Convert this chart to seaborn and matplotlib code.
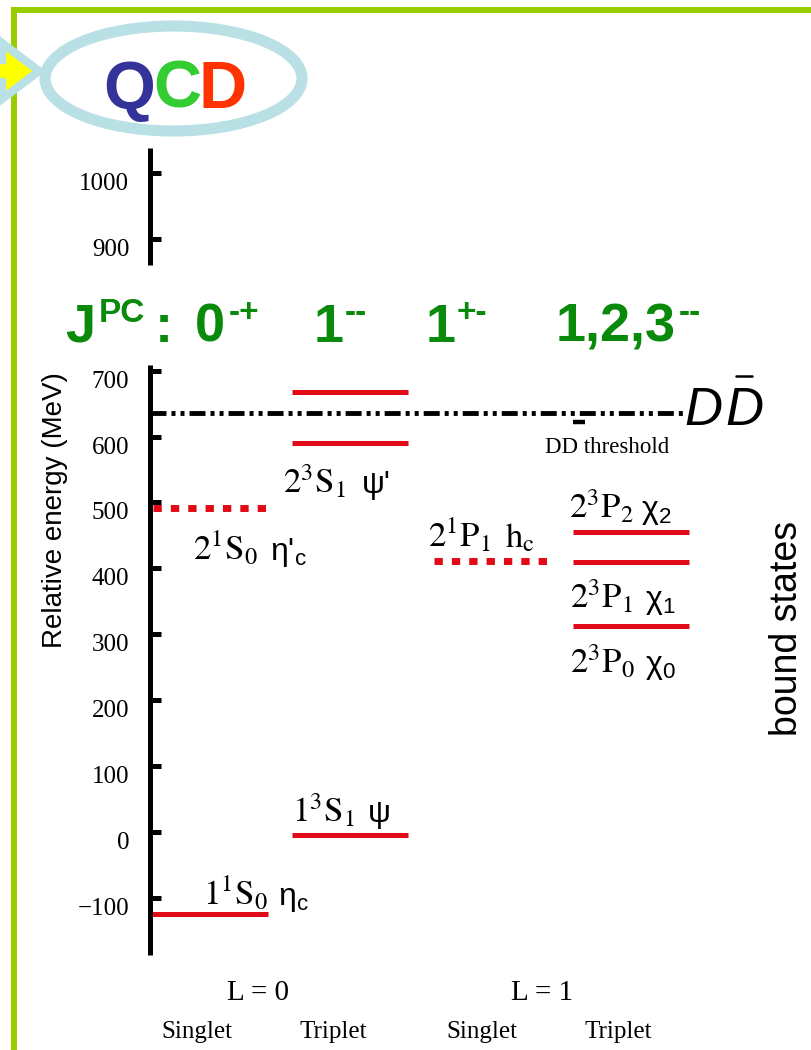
import numpy as np
import pandas as pd
import matplotlib
matplotlib.use("Agg")
import matplotlib.pyplot as plt
import seaborn as sns
from matplotlib.patches import Ellipse, Polygon
from matplotlib.lines import Line2D

# ---------------- data ----------------
column_names = ["Singlet", "Triplet", "Singlet", "Triplet"]
L_labels = ["L = 0", "L = 1"]

solid_states = ["eta_c", "J/psi", "psi'", "psi(3770)", "chi_c2", "chi_c1", "chi_c0"]
solid_column = [0, 1, 1, 1, 3, 3, 3]
solid_energy = [-125, -5, 590, 668, 455, 410, 312]   # MeV relative

dotted_states = ["eta_c'", "h_c"]
dotted_column = [0, 2]
dotted_energy = [491, 411]

dd_threshold = 636
threshold_mark = 622

ytick_values = [-100, 0, 100, 200, 300, 400, 500, 600, 700, 900, 1000]
ytick_labels = ["\u2212100", "0", "100", "200", "300", "400", "500", "600", "700", "900", "1000"]

term_labels = [r"$\mathrm{2^3S_1}$", r"$\mathrm{2^1S_0}$", r"$\mathrm{2^1P_1}$", r"$\mathrm{2^3P_2}$",
               r"$\mathrm{2^3P_1}$", r"$\mathrm{2^3P_0}$", r"$\mathrm{1^3S_1}$", r"$\mathrm{1^1S_0}$"]
particle_labels = ["\u03c8'", "\u03b7'$_\\mathregular{c}$", r"$\mathrm{h_c}$",
                   "\u03c7$_\\mathregular{2}$", "\u03c7$_\\mathregular{1}$", "\u03c7$_\\mathregular{0}$",
                   "\u03c8", "\u03b7$_\\mathregular{c}$"]
jpc_main = ["0", "1", "1", "1,2,3"]
jpc_sup = ["-+", "--", "+-", "--"]

# ---------------- layout (pixels) ----------------
W, H = 811, 1050
term_pos = [(283, 493), (193, 560), (428, 547), (569, 518), (570, 608), (570, 673), (292, 822), (203, 905)]
particle_x = [362, 270, 505, 641, 645, 645, 368, 278]
jpc_main_centres = [210, 329, 441, 616]
jpc_sup_left = [229, 345, 457, 679]

RED = "#e20a17"
GREEN = "#0a8a0a"
LIGHTBLUE = "#b9e0e4"
FRAME = "#99cc00"

sns.set_theme(style="white")
plt.rcParams["lines.scale_dashes"] = False
plt.rcParams["font.family"] = ["Liberation Sans", "DejaVu Sans"]

fig = plt.figure(figsize=(8.11, 10.5), dpi=100)
fig.patch.set_facecolor("white")


def T(px, py, s, **kw):
    return fig.text(px / W, 1 - py / H, s, **kw)


# main axes: column centres at 210 + 140.3*i px, 0 MeV at y=832 px, 65.9 px / 100 MeV
col_px0, col_dx = 210.0, 140.3
y0_px, px_per_mev = 832.0, 0.659
ax = fig.add_axes([150 / W, 0, 1 - 150 / W, 1])
ax.patch.set_alpha(0)

hw = 58 / col_dx
rows = []
for s, c, e in zip(solid_states, solid_column, solid_energy):
    rows.append(dict(state=s, x=c - hw, E=e))
    rows.append(dict(state=s, x=c + hw, E=e))
df = pd.DataFrame(rows)
sns.lineplot(data=df, x="x", y="E", units="state", estimator=None, sort=False,
             color=RED, lw=3.6, ax=ax, legend=False, solid_capstyle="butt")

dc = np.array(dotted_column, dtype=float)
ax.hlines(dotted_energy, dc - hw + 0.01, dc + hw, colors=RED, lw=5,
          linestyles=[(0, (6, 6.5))])

xmin = (150 - col_px0) / col_dx
xmax = (W - col_px0) / col_dx
x_dd_end = 3 + hw - 0.04
ax.plot([xmin, x_dd_end], [dd_threshold, dd_threshold], color="black", lw=3.5,
        dashes=[11.5, 3.6, 2.9, 3.6, 2.9, 3.6], solid_capstyle="butt", dash_capstyle="butt")
ax.plot([2.59, 2.67], [threshold_mark, threshold_mark], color="black", lw=3.2, solid_capstyle="butt")

ax.set_xlim(xmin, xmax)
ax.set_ylim(-(H - y0_px) / px_per_mev, y0_px / px_per_mev)
ax.set_xlabel("")
ax.set_ylabel("")
for s in ["top", "right", "bottom"]:
    ax.spines[s].set_visible(False)
sp = ax.spines["left"]
sp.set_bounds(-187, 709)
sp.set_linewidth(3.6)
sp.set_color("black")
sp.set_capstyle("butt")
ax.plot([0, 0], [860, 1038], transform=ax.get_yaxis_transform(), color="black",
        lw=3.6, clip_on=False, solid_capstyle="butt")
ax.set_xticks([])
ax.set_yticks(ytick_values, ytick_labels)
ax.tick_params(axis="y", left=True, direction="in", length=8, width=3.6, pad=15,
               labelsize=18, color="black", labelcolor="black",
               labelfontfamily="Liberation Serif")
for lab in ax.get_yticklabels():
    lab.set_va("top")
ax.grid(False)

# state labels
for (px, py), t in zip(term_pos, term_labels):
    T(px, py, t, fontsize=25, math_fontfamily="stix", color="black")
for (px, py), gx, g in zip(term_pos, particle_x, particle_labels):
    if g.startswith("$"):
        T(gx, py, g, fontsize=25, math_fontfamily="stix", color="black")
    else:
        T(gx, py, g, fontsize=23, family="Liberation Sans", color="black")

T(607, 453, "DD threshold", fontsize=16.5, family="Liberation Serif", ha="center", color="black")
T(684, 425, "D", fontsize=38, family="Liberation Sans", style="italic", color="black")
T(725, 425, "D", fontsize=38, family="Liberation Sans", style="italic", color="black")
fig.add_artist(Line2D([736 / W, 752 / W], [1 - 376 / H] * 2, color="black", lw=1.8))

# axis titles
T(55, 510, "Relative energy (MeV)", fontsize=20, rotation=90, ha="center", va="center", color="black")
T(787, 628, "bound states", fontsize=27, rotation=90, ha="center", va="center", color="black")

# column labels
L_centres = [258, 542]
for c, t in zip(L_centres, L_labels):
    T(c, 1000, t, fontsize=21, family="Liberation Serif", ha="center", color="black")
col_label_centres = [197, 333, 482, 618]
for c, t in zip(col_label_centres, column_names):
    T(c, 1038, t, fontsize=18, family="Liberation Serif", ha="center", color="black")

# J^PC header
big = dict(fontsize=39, weight="bold", color=GREEN, family="Liberation Sans")
small = dict(fontsize=24, weight="bold", color=GREEN, family="Liberation Sans")
T(65, 342, "J", **big)
T(99, 322, "PC", **small)
T(155, 342, ":", **big)
for cx, t in zip(jpc_main_centres, jpc_main):
    T(cx, 342, t, ha="center", **big)
for lx, t in zip(jpc_sup_left, jpc_sup):
    T(lx, 322, t, ha="left", **small)

# QCD logo
fig.add_artist(Ellipse((173.5 / W, 1 - 78.5 / H), 257 / W, 105 / H, transform=fig.transFigure,
                       fill=False, ec=LIGHTBLUE, lw=8, zorder=4))
arrow_px = [(-20, 60), (2, 60), (2, 43), (39, 71), (2, 99), (2, 82), (-20, 82)]
fig.add_artist(Polygon([(x / W, 1 - y / H) for x, y in arrow_px], closed=True,
                       transform=fig.transFigure, fc="#ffff00", ec=LIGHTBLUE, lw=6, zorder=5))
qcd = [("Q", 129, "#333399"), ("C", 177.5, "#33cc33"), ("D", 222.5, "#ff3300")]
for ch, cx, colr in qcd:
    T(cx, 108, ch, fontsize=48, weight="bold", color=colr, ha="center", family="Liberation Sans")

# frame
fig.add_artist(Line2D([11 / W, 1], [1 - 10 / H] * 2, color=FRAME, lw=4.3, zorder=3,
                      solid_capstyle="butt"))
fig.add_artist(Line2D([14 / W] * 2, [1 - 7 / H, 0], color=FRAME, lw=4.3, zorder=3,
                      solid_capstyle="butt"))

fig.savefig("out.png", dpi=100, facecolor="white")
